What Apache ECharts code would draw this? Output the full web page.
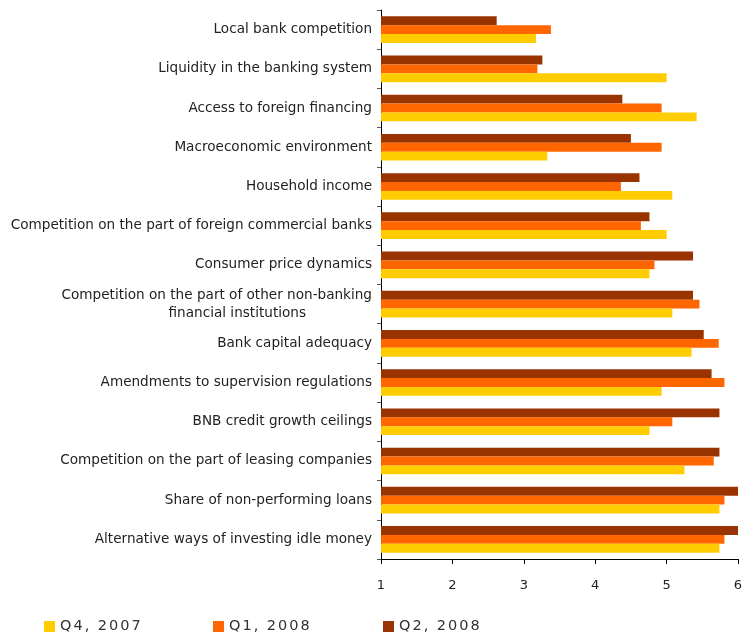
<!DOCTYPE html>
<html>
<head>
<meta charset="utf-8">
<script src="https://cdn.jsdelivr.net/npm/echarts@6/dist/echarts.min.js"></script>
<style>
  html, body { margin: 0; padding: 0; background: #fff; }
  #chart { width: 754px; height: 634px; }
</style>
</head>
<body>
<div id="chart"></div>
<script>
// Factors influencing credit standards, average scores (1-6 scale)
const categories = [
  'Local bank competition',
  'Liquidity in the banking system',
  'Access to foreign financing',
  'Macroeconomic environment',
  'Household income',
  'Competition on the part of foreign commercial banks',
  'Consumer price dynamics',
  'Competition on the part of other non-banking\nfinancial institutions',
  'Bank capital adequacy',
  'Amendments to supervision regulations',
  'BNB credit growth ceilings',
  'Competition on the part of leasing companies',
  'Share of non-performing loans',
  'Alternative ways of investing idle money'
];

const seriesNames = ['Q4, 2007', 'Q1, 2008', 'Q2, 2008'];

const q4_2007 = [3.17, 5.00, 5.42, 3.33, 5.08, 5.00, 4.76, 5.08, 5.35, 4.93, 4.76, 5.25, 5.74, 5.74];
const q1_2008 = [3.38, 3.19, 4.93, 4.93, 4.36, 4.64, 4.83, 5.46, 5.73, 5.81, 5.08, 5.66, 5.81, 5.81];
const q2_2008 = [2.62, 3.26, 4.38, 4.50, 4.62, 4.76, 5.37, 5.37, 5.52, 5.63, 5.74, 5.74, 6.00, 6.00];

const axisTicks = [1, 2, 3, 4, 5, 6];

const colors = ['#FFCC00', '#FF6600', '#993300'];
const font = 'DejaVu Sans, Verdana, sans-serif';

const chart = echarts.init(document.getElementById('chart'), null, { renderer: 'canvas' });

const values = [q4_2007, q1_2008, q2_2008];
const legendLeft = [44, 213, 383];

// legend labels drawn with widened character spacing
const spaced = (name) => name.split('').map((ch) => '{s|' + ch + '}').join('');

// two-line category label: second line sits roughly centred under the first
const wrapLabel = (v) => {
  if (v.indexOf('\n') < 0) return v;
  const parts = v.split('\n');
  return '{a|' + parts[0] + '}\n{b|' + parts[1] + '}';
};

// series are listed newest first so that, on the inverted category axis,
// Q2 2008 sits on top and Q4 2007 at the bottom of each group
const order = [2, 1, 0];

chart.setOption({
  animation: false,
  backgroundColor: '#ffffff',
  grid: { left: 381, right: 16, top: 10, bottom: 75, containLabel: false },
  legend: seriesNames.map((name, i) => ({
    data: [name],
    left: legendLeft[i],
    top: 619,
    itemWidth: 11,
    itemHeight: 11,
    itemGap: 0,
    icon: 'rect',
    padding: 0,
    formatter: spaced,
    textStyle: {
      fontFamily: font, fontSize: 14.5, color: '#333',
      rich: { s: { fontFamily: font, fontSize: 14.5, color: '#333', padding: [0, 2, 0, 0] } }
    }
  })),
  xAxis: {
    type: 'value',
    min: axisTicks[0],
    max: axisTicks[axisTicks.length - 1],
    interval: 1,
    splitLine: { show: false },
    axisLine: { show: true, lineStyle: { color: '#000', width: 1 } },
    axisTick: { show: true, length: 5, lineStyle: { color: '#000' } },
    axisLabel: { fontFamily: font, fontSize: 13, color: '#222', margin: 20 }
  },
  yAxis: {
    type: 'category',
    data: categories,
    inverse: true,
    axisLine: { show: true, lineStyle: { color: '#000', width: 1 } },
    axisTick: { show: true, length: 4, lineStyle: { color: '#555' } },
    axisLabel: {
      fontFamily: font,
      fontSize: 13.6,
      color: '#222',
      margin: 9,
      lineHeight: 18,
      formatter: wrapLabel,
      rich: {
        a: { fontFamily: font, fontSize: 13.6, color: '#222', lineHeight: 18 },
        b: { fontFamily: font, fontSize: 13.6, color: '#222', lineHeight: 18, padding: [0, 66, 0, 0] }
      }
    }
  },
  series: order.map((i) => ({
    name: seriesNames[i],
    type: 'bar',
    data: values[i],
    barGap: '0%',
    barCategoryGap: '32%',
    itemStyle: { color: colors[i] }
  }))
});
</script>
</body>
</html>
